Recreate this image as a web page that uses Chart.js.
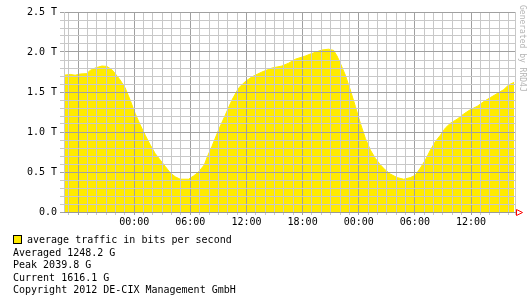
<!DOCTYPE html>
<html>
<head>
<meta charset="utf-8">
<script src="https://cdn.jsdelivr.net/npm/chart.js@4/dist/chart.umd.min.js"></script>
<style>
  html, body { margin: 0; padding: 0; background: #fff; }
  #wrap { position: relative; width: 530px; height: 306px; overflow: hidden; font-family: 'DejaVu Sans Mono', monospace; }
  #chart { position: absolute; left: 0; top: 0; }
  #legend { position: absolute; left: 13px; top: 234px; font-size: 10px; line-height: 12.5px; color: #000; white-space: pre; }
  #legend .box { display: inline-block; box-sizing: border-box; width: 9px; height: 9px; border: 1px solid #000; background: #ffea00; vertical-align: -1px; margin-right: 5px; }
  #gen { position: absolute; left: 0; top: 0; font-size: 8px; line-height: 10px; color: #b4b4b4; white-space: pre; transform-origin: 0 0; transform: translate(527px, 5px) rotate(90deg); }
</style>
</head>
<body>
<div id="wrap">
  <canvas id="chart" width="530" height="306"></canvas>
  <div id="legend"><span class="box"></span>average traffic in bits per second
Averaged 1248.2 G
Peak 2039.8 G
Current 1616.1 G
Copyright 2012 DE-CIX Management GmbH</div>
  <div id="gen">Generated by RRD4J</div>
</div>
<script>
// hours relative to the first midnight, traffic in Tbit/s
const horas = [-7.5, -6.84, -6.31, -5.78, -5.06, -4.71, -4.17, -3.45, -2.92, -2.39, -2.03, -1.5, -0.96, -0.43,
  0.11, 0.64, 1.18, 1.71, 2.25, 2.78, 3.32, 3.85, 4.39, 4.92, 5.81, 6.34, 6.88, 7.5, 7.78, 8.31, 9.02, 9.73,
  10.45, 11.16, 11.87, 12.59, 13.66, 14.73, 15.8, 16.5, 17.22, 18.29, 19.18, 20.07, 20.78, 21.32, 21.68,
  22.03, 22.57, 23.1, 23.64, 24.17, 24.71, 25.24, 25.78, 26.31, 26.84, 27.38, 28.1, 28.8, 29.52, 30.05,
  30.59, 31.12, 31.66, 32.19, 32.73, 33.26, 33.8, 34.51, 35.22, 35.94, 36.65, 37.36, 38.07, 38.79, 39.5,
  40.04, 40.6];
const trafico = [1.71, 1.72, 1.71, 1.725, 1.73, 1.77, 1.8, 1.825, 1.82, 1.78, 1.73, 1.65, 1.55, 1.4,
  1.23, 1.09, 0.96, 0.84, 0.73, 0.65, 0.57, 0.49, 0.44, 0.41, 0.41, 0.45, 0.5, 0.59, 0.68, 0.82, 1.025, 1.21,
  1.4, 1.55, 1.63, 1.69, 1.75, 1.8, 1.825, 1.86, 1.91, 1.95, 1.99, 2.025, 2.035, 2.02, 1.95,
  1.86, 1.71, 1.525, 1.32, 1.11, 0.92, 0.775, 0.67, 0.59, 0.525, 0.475, 0.43, 0.41, 0.43, 0.46,
  0.55, 0.65, 0.775, 0.88, 0.96, 1.05, 1.11, 1.16, 1.225, 1.28, 1.32, 1.38, 1.43, 1.48, 1.53,
  1.59, 1.62];

const xMin = -7.5;
const xMax = 40.7;
const horasEtiqueta = [0, 6, 12, 18, 24, 30, 36];
const textosEtiqueta = ['00:00', '06:00', '12:00', '18:00', '00:00', '06:00', '12:00'];
const valoresEje = [0, 0.5, 1, 1.5, 2, 2.5];
const textosEje = ['0.0', '0.5 T', '1.0 T', '1.5 T', '2.0 T', '2.5 T'];

const amarillo = '#ffea00';
const gridMenor = '#c8c8c8';
const gridMayor = '#a0a0a0';

Chart.defaults.font.family = "'DejaVu Sans Mono', monospace";
Chart.defaults.font.size = 10;
Chart.defaults.color = '#000';

// red arrow at the end of the time axis
const flecha = {
    id: 'flecha',
    afterDraw(chart) {
        const { ctx, chartArea } = chart;
        const y = Math.round(chartArea.bottom) + 0.5;
        const x = Math.round(chartArea.right) + 1.5;
        ctx.save();
        ctx.strokeStyle = '#ff0000';
        ctx.lineWidth = 1;
        ctx.beginPath();
        ctx.moveTo(x, y - 3);
        ctx.lineTo(x + 6, y);
        ctx.lineTo(x, y + 3);
        ctx.closePath();
        ctx.stroke();
        ctx.restore();
    }
};

new Chart(document.getElementById('chart'), {
    type: 'line',
    data: {
        datasets: [{
            label: 'average traffic in bits per second',
            data: horas.map((h, i) => ({ x: h, y: trafico[i] })),
            backgroundColor: amarillo,
            borderColor: amarillo,
            borderWidth: 1,
            pointRadius: 0,
            tension: 0,
            fill: 'origin'
        }]
    },
    options: {
        responsive: false,
        animation: false,
        layout: { padding: { left: 0, top: 12, right: 15, bottom: 74 } },
        plugins: {
            legend: { display: false },
            tooltip: { enabled: false }
        },
        scales: {
            x: {
                type: 'linear',
                min: xMin,
                max: xMax,
                afterBuildTicks: (s) => {
                    const t = [];
                    for (let h = Math.ceil(xMin); h <= Math.floor(xMax); h++) t.push({ value: h });
                    t.push({ value: xMax });
                    s.ticks = t;
                },
                afterFit: (s) => { s.height = 20; },
                grid: {
                    z: 1,
                    color: (c) => (c.tick && Number.isInteger(c.tick.value) && c.tick.value % 6 === 0) ? gridMayor : gridMenor,
                    tickLength: 3,
                    lineWidth: 1
                },
                border: { display: true, color: '#999', z: 2 },
                ticks: {
                    autoSkip: false,
                    maxRotation: 0,
                    padding: 1,
                    callback: (v) => {
                        const i = horasEtiqueta.indexOf(v);
                        return i >= 0 ? textosEtiqueta[i] : '';
                    }
                }
            },
            y: {
                min: 0,
                max: 2.5,
                afterBuildTicks: (s) => {
                    const t = [];
                    for (let k = 0; k <= 25; k++) t.push({ value: k / 10 });
                    s.ticks = t;
                },
                afterFit: (s) => { s.width = 64; },
                grid: {
                    z: 1,
                    color: (c) => (c.tick && Math.round(c.tick.value * 10) % 5 === 0) ? gridMayor : gridMenor,
                    tickLength: 4,
                    lineWidth: 1
                },
                border: { display: true, color: gridMenor, z: 1 },
                ticks: {
                    autoSkip: false,
                    padding: 3,
                    callback: (v) => {
                        const i = valoresEje.findIndex(e => Math.abs(e - v) < 1e-6);
                        return i >= 0 ? textosEje[i] : '';
                    }
                }
            }
        }
    },
    plugins: [flecha]
});
</script>
</body>
</html>
